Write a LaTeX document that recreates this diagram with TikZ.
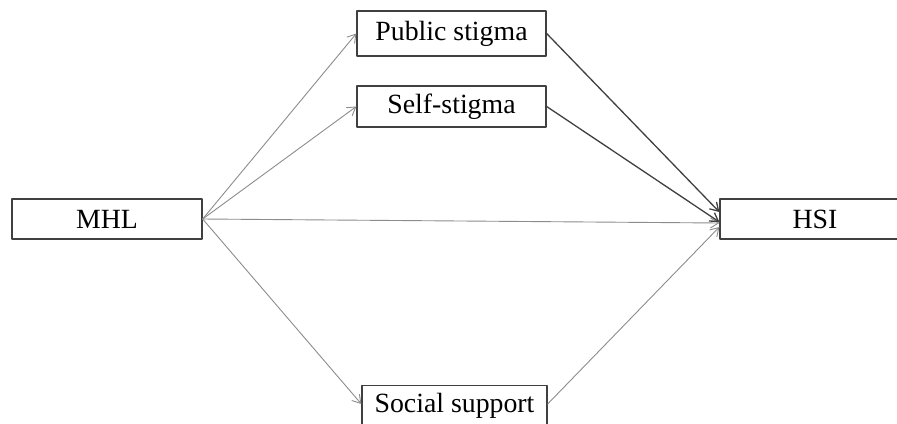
\documentclass[tikz,border=0pt]{standalone}
\usepackage{fontspec}
\setmainfont{Liberation Serif}
\usetikzlibrary{arrows.meta}
\tikzset{
  varbox/.style={draw=black!75, line width=0.65pt, fill=white, inner sep=0pt,
    font=\fontsize{13.9}{16}\selectfont},
  pathlight/.style={draw=black!45, line width=0.45pt, -{Straight Barb[length=4pt,width=5pt]}},
  pathdark/.style={draw=black!75, line width=0.65pt, -{Straight Barb[length=4pt,width=5pt]}}
}
\begin{document}
\begin{tikzpicture}[x=0.5pt, y=-0.5pt, line cap=round, line join=round]
    \useasboundingbox (0,0) rectangle (897,423);

    % Variabili
    \node[varbox, minimum width=95pt, minimum height=20pt] (mhl) at (107,219) {MHL};
    \node[varbox, minimum width=94.5pt, minimum height=22.5pt] (public) at (451.5,33.5) {Public stigma};
    \node[varbox, minimum width=94.5pt, minimum height=20.5pt] (self) at (451.5,106.5) {Self-stigma};
    \node[varbox, minimum width=92.5pt, minimum height=20pt] (social) at (454.5,405.5) {Social support};
    \node[varbox, minimum width=95pt, minimum height=20pt] (hsi) at (815,219) {HSI};

    % Percorsi da MHL
    \draw[pathlight] (mhl.east) -- (public.west);
    \draw[pathlight] (mhl.east) -- (self.west);
    \draw[pathlight] (mhl.east) -- ([yshift=-2pt]hsi.west);
    \draw[pathlight] (mhl.east) -- ([yshift=0.75pt]social.west);

    % Percorsi verso HSI
    \draw[pathdark] (public.east) -- ([yshift=3.5pt]hsi.west);
    \draw[pathdark] (self.east) -- ([yshift=-1.5pt]hsi.west);
    \draw[pathlight] ([yshift=0.75pt]social.east) -- ([yshift=-4pt]hsi.west);
\end{tikzpicture}
\end{document}
